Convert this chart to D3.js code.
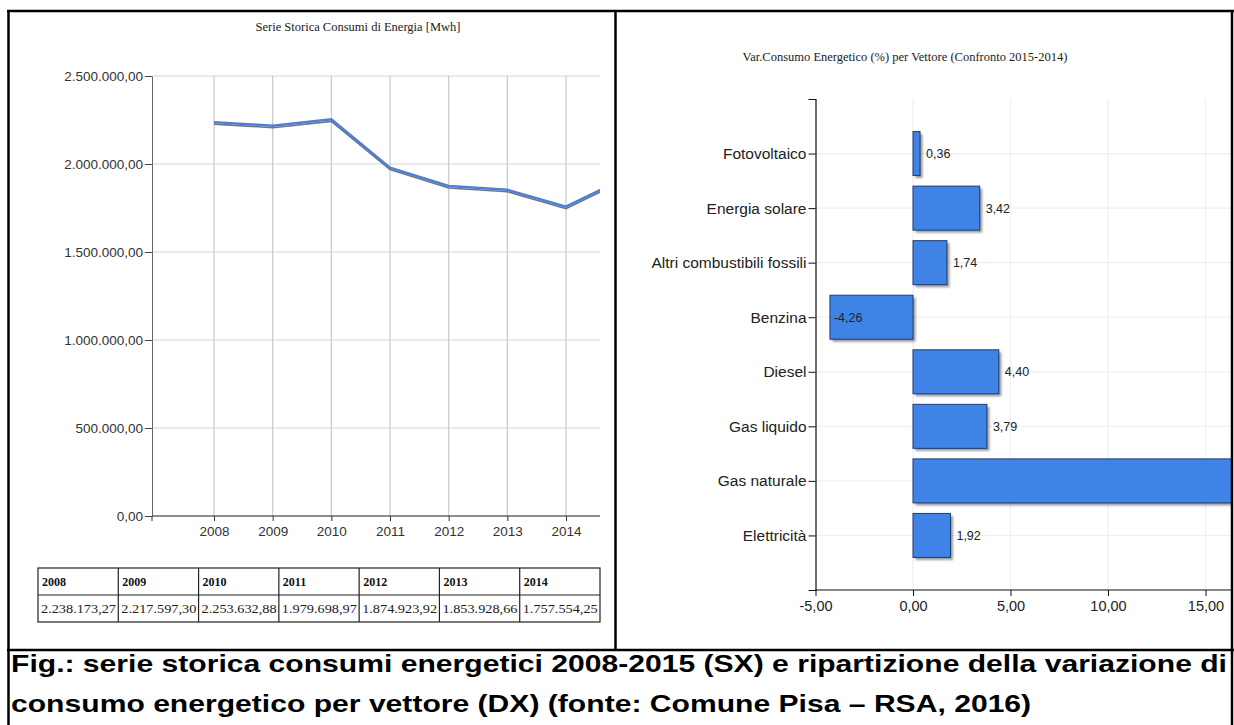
<!DOCTYPE html>
<html>
<head>
<meta charset="utf-8">
<script src="https://cdn.jsdelivr.net/npm/d3@7"></script>
<style>
  html, body { margin: 0; padding: 0; background: #fff; }
  svg { display: block; }
</style>
</head>
<body>
<svg id="chart" width="1234" height="725"></svg>
<script>
// ---------- DATA ----------
const years = [2008, 2009, 2010, 2011, 2012, 2013, 2014, 2015];
const consumi = [2238173.27, 2217597.30, 2253632.88, 1979698.97, 1874923.92, 1853928.66, 1757554.25, 1920000];
const tableYears = [2008, 2009, 2010, 2011, 2012, 2013, 2014];
const tableValues = [2238173.27, 2217597.30, 2253632.88, 1979698.97, 1874923.92, 1853928.66, 1757554.25];
const yTicksLeft = [0, 500000, 1000000, 1500000, 2000000, 2500000];

const categories = ["Fotovoltaico", "Energia solare", "Altri combustibili fossili", "Benzina",
                    "Diesel", "Gas liquido", "Gas naturale", "Elettricità"];
const variazioni = [0.36, 3.42, 1.74, -4.26, 4.40, 3.79, 16.6, 1.92];
const xTicksRight = [-5, 0, 5, 10, 15];

const titleLeft = "Serie Storica Consumi di Energia [Mwh]";
const titleRight = "Var.Consumo Energetico (%) per Vettore (Confronto 2015-2014)";
const caption1 = "Fig.: serie storica consumi energetici 2008-2015 (SX) e ripartizione della variazione di";
const caption2 = "consumo energetico per vettore (DX) (fonte: Comune Pisa – RSA, 2016)";

// ---------- SETUP ----------
const it = d3.formatLocale({decimal: ",", thousands: ".", grouping: [3], currency: ["€", ""], minus: "-"});
const fmt2 = it.format(",.2f");
const fmtP = it.format(".2f");
const svg = d3.select("#chart");
const defs = svg.append("defs");
const blur = defs.append("filter").attr("id", "shadowBlur").attr("x", "-10%").attr("y", "-10%").attr("width", "130%").attr("height", "130%");
blur.append("feGaussianBlur").attr("stdDeviation", 1);

const sansFont = "'Liberation Sans', Arial, sans-serif";
const serifFont = "'Liberation Serif', 'Times New Roman', serif";

// ---------- LEFT CHART ----------
const xL = d3.scaleLinear().domain([2008, 2014]).range([214, 566]);
const yL = d3.scaleLinear().domain([0, 2500000]).range([516, 76]);
const axL = 152, rightL = 600;

defs.append("clipPath").attr("id", "clipL").append("rect")
  .attr("x", axL).attr("y", 60).attr("width", rightL - axL).attr("height", 470);

const gL = svg.append("g");
gL.append("text").attr("x", 358).attr("y", 31).attr("text-anchor", "middle")
  .style("font-family", serifFont).style("font-size", "12.5px").attr("fill", "#222").text(titleLeft);

// grid
const gridL = gL.append("g").attr("clip-path", "url(#clipL)");
gridL.selectAll("line.h").data(yTicksLeft).join("line")
  .attr("x1", axL).attr("x2", rightL).attr("y1", d => yL(d)).attr("y2", d => yL(d))
  .attr("stroke", "#d6d6d6").attr("stroke-width", 1.2);
gridL.selectAll("line.v").data(years).join("line")
  .attr("x1", d => xL(d)).attr("x2", d => xL(d)).attr("y1", yL(2500000)).attr("y2", yL(0))
  .attr("stroke", "#c8c8c8").attr("stroke-width", 1.2);

// axes
const yAxisL = d3.axisLeft(yL).tickValues(yTicksLeft).tickSize(7).tickSizeOuter(0).tickFormat(fmt2);
const gyL = gL.append("g").attr("transform", `translate(${axL},0)`).call(yAxisL);
gyL.select(".domain").attr("stroke", "#666");
gyL.selectAll(".tick line").attr("stroke", "#444");
gyL.selectAll("text").style("font-family", sansFont).style("font-size", "13.5px").attr("fill", "#333").attr("x", -9);

const xAxisL = d3.axisBottom(xL).tickValues(years.slice(0, 7)).tickSize(5).tickSizeOuter(0).tickFormat(d3.format("d"));
const gxL = gL.append("g").attr("transform", `translate(0,${yL(0)})`).call(xAxisL);
gxL.select(".domain").remove();
gxL.append("line").attr("x1", axL).attr("x2", rightL).attr("y1", 0).attr("y2", 0).attr("stroke", "#333").attr("stroke-width", 1.2);
gxL.append("line").attr("x1", axL).attr("x2", axL).attr("y1", 0).attr("y2", 5).attr("stroke", "#333");
gxL.selectAll(".tick line").attr("stroke", "#333");
gxL.selectAll("text").style("font-family", sansFont).style("font-size", "13.5px").attr("fill", "#333").attr("y", 10);

// line (blue line with a thin darker shadow line)
const lineGen = d3.line().x((d, i) => xL(years[i])).y(d => yL(d));
const lineG = gL.append("g").attr("clip-path", "url(#clipL)");
lineG.append("path").datum(consumi).attr("d", lineGen)
  .attr("transform", "translate(0,2)")
  .attr("fill", "none").attr("stroke", "#6d7686").attr("stroke-width", 1.6);
lineG.append("path").datum(consumi).attr("d", lineGen)
  .attr("fill", "none").attr("stroke", "#4d7fd6").attr("stroke-width", 2.4);

// table
const tx = d3.scaleBand().domain(tableYears).range([38, 600]).padding(0);
const tableG = gL.append("g");
const rowTop = 568, rowMid = 595, rowBot = 622;
tableG.append("rect").attr("x", 38).attr("y", rowTop).attr("width", 562).attr("height", rowBot - rowTop)
  .attr("fill", "none").attr("stroke", "#222").attr("stroke-width", 1.2);
tableG.append("line").attr("x1", 38).attr("x2", 600).attr("y1", rowMid).attr("y2", rowMid)
  .attr("stroke", "#222").attr("stroke-width", 1.2);
tableG.selectAll("line.col").data(tableYears.slice(1)).join("line")
  .attr("x1", d => tx(d)).attr("x2", d => tx(d)).attr("y1", rowTop).attr("y2", rowBot)
  .attr("stroke", "#222").attr("stroke-width", 1.2);
tableG.selectAll("text.hdr").data(tableYears).join("text")
  .attr("x", d => tx(d) + 4).attr("y", 586)
  .style("font-family", serifFont).style("font-size", "12px").style("font-weight", "bold")
  .attr("fill", "#111").text(d => d);
tableG.selectAll("text.val").data(tableValues).join("text")
  .attr("x", (d, i) => tx(tableYears[i]) + 3).attr("y", 613)
  .attr("textLength", 75).attr("lengthAdjust", "spacingAndGlyphs")
  .style("font-family", serifFont).style("font-size", "12px")
  .attr("fill", "#222").text(d => fmt2(d));

// ---------- RIGHT CHART ----------
const xR = d3.scaleLinear().domain([-5, 15]).range([815.5, 1205.5]);
const yR = d3.scalePoint().domain(categories).range([99, 590]).padding(1);
const barH = 44;
const rightEdge = 1231;

defs.append("clipPath").attr("id", "clipR").append("rect")
  .attr("x", 600).attr("y", 60).attr("width", rightEdge - 600).attr("height", 560);

svg.append("text").attr("x", 905).attr("y", 61).attr("text-anchor", "middle")
  .style("font-family", serifFont).style("font-size", "12.5px").attr("fill", "#222").text(titleRight);

const gR = svg.append("g").attr("clip-path", "url(#clipR)");

// faint grid
gR.selectAll("line.gv").data(xTicksRight.slice(1)).join("line")
  .attr("x1", d => xR(d)).attr("x2", d => xR(d)).attr("y1", 99).attr("y2", 590)
  .attr("stroke", "#efefef").attr("stroke-width", 1.2);
gR.selectAll("line.gh").data(categories).join("line")
  .attr("x1", 815.5).attr("x2", rightEdge).attr("y1", d => yR(d)).attr("y2", d => yR(d))
  .attr("stroke", "#efefef").attr("stroke-width", 1.2);

// bars
const bars = gR.append("g");
bars.selectAll("rect.sh").data(variazioni).join("rect")
  .attr("x", d => Math.min(xR(0), xR(d)) + 2.5)
  .attr("y", (d, i) => yR(categories[i]) - barH / 2 + 2.5)
  .attr("width", d => Math.abs(xR(d) - xR(0)))
  .attr("height", barH)
  .attr("fill", "#444").attr("opacity", 0.55).attr("filter", "url(#shadowBlur)");
bars.selectAll("rect.bar").data(variazioni).join("rect")
  .attr("x", d => Math.min(xR(0), xR(d)))
  .attr("y", (d, i) => yR(categories[i]) - barH / 2)
  .attr("width", d => Math.abs(xR(d) - xR(0)))
  .attr("height", barH)
  .attr("fill", "#3f83e6").attr("stroke", "#1d3c74").attr("stroke-width", 1);
// value labels (the one beyond the visible edge is not shown, as in the reference)
const labelData = variazioni.map((v, i) => ({v, c: categories[i]})).filter(d => xR(d.v) + 30 < rightEdge);
bars.selectAll("text.lab").data(labelData).join("text")
  .attr("x", d => xR(d.v) + (d.v < 0 ? 4 : 6))
  .attr("y", d => yR(d.c) + 4.5)
  .style("font-family", sansFont).style("font-size", "12.5px").attr("fill", "#222")
  .text(d => fmtP(d.v));

// axes
const yAxisR = d3.axisLeft(yR).tickSize(7).tickSizeOuter(7);
const gyR = svg.append("g").attr("transform", "translate(815.5,0)").call(yAxisR);
gyR.select(".domain").attr("stroke", "#111").attr("stroke-width", 1.2);
gyR.selectAll(".tick line").attr("stroke", "#111");
gyR.selectAll("text").style("font-family", sansFont).style("font-size", "15.5px").attr("fill", "#222").attr("x", -9);

const xAxisR = d3.axisBottom(xR).tickValues(xTicksRight).tickSize(6).tickSizeOuter(0).tickFormat(fmtP);
const gxR = svg.append("g").attr("transform", "translate(0,590)").call(xAxisR);
gxR.select(".domain").remove();
gxR.append("line").attr("x1", 815.5).attr("x2", rightEdge).attr("y1", 0).attr("y2", 0).attr("stroke", "#111").attr("stroke-width", 1.2);
gxR.selectAll(".tick line").attr("stroke", "#111");
gxR.selectAll("text").style("font-family", sansFont).style("font-size", "14.5px").attr("fill", "#222").attr("y", 11);

// ---------- FRAME ----------
const frame = svg.append("g").attr("stroke", "#000").attr("fill", "none");
frame.append("line").attr("x1", 7).attr("x2", 1234).attr("y1", 11).attr("y2", 11).attr("stroke-width", 2.5);
frame.append("line").attr("x1", 8.5).attr("x2", 8.5).attr("y1", 10).attr("y2", 725).attr("stroke-width", 2.5);
frame.append("line").attr("x1", 615.5).attr("x2", 615.5).attr("y1", 10).attr("y2", 650).attr("stroke-width", 2.5);
frame.append("line").attr("x1", 1232).attr("x2", 1232).attr("y1", 10).attr("y2", 725).attr("stroke-width", 2.5);
frame.append("line").attr("x1", 7).attr("x2", 1234).attr("y1", 650).attr("y2", 650).attr("stroke-width", 2.5);

// ---------- CAPTION (bold face, slightly widened so the first line fills the cell) ----------
const capG = svg.append("g");
const c1 = capG.append("text").attr("y", 672)
  .style("font-family", sansFont).style("font-size", "23.5px").style("font-weight", "bold")
  .attr("fill", "#000").text(caption1);
const c2 = capG.append("text").attr("y", 712)
  .style("font-family", sansFont).style("font-size", "23.5px").style("font-weight", "bold")
  .attr("fill", "#000").text(caption2);
const w1 = c1.node().getComputedTextLength();
const stretch = 1216 / w1;
c1.attr("transform", `translate(11,0) scale(${stretch},1)`);
c2.attr("transform", `translate(11,0) scale(${stretch},1)`);
</script>
</body>
</html>
